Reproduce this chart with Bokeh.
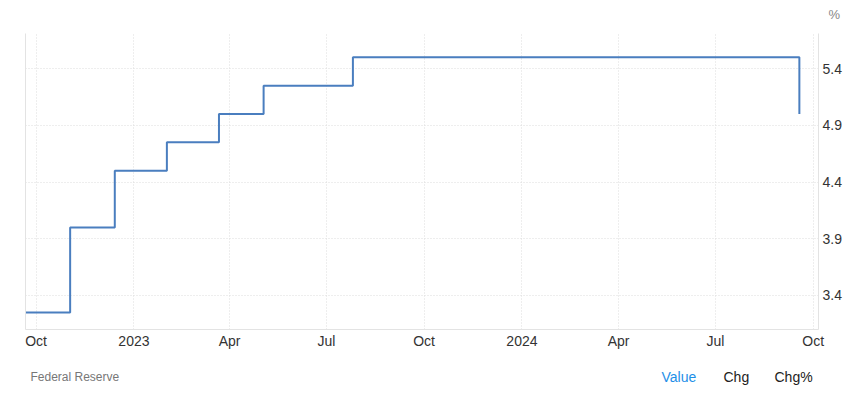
import pandas as pd
from bokeh.plotting import figure
from bokeh.layouts import column
from bokeh.models import (FixedTicker, LinearAxis, Label, Range1d)
from bokeh.embed import file_html
from bokeh.resources import INLINE

# ---- data ----
dates = ["2022-09-21", "2022-11-02", "2022-12-14", "2023-02-01", "2023-03-22",
         "2023-05-03", "2023-07-26", "2024-09-18"]
rates = [3.25, 4.00, 4.50, 4.75, 5.00, 5.25, 5.50, 5.00]

x_tick_dates = ["2022-10-01", "2023-01-01", "2023-04-01", "2023-07-01", "2023-10-01",
                "2024-01-01", "2024-04-01", "2024-07-01", "2024-10-01"]
x_tick_labels = ["Oct", "2023", "Apr", "Jul", "Oct", "2024", "Apr", "Jul", "Oct"]
y_ticks = [3.4, 3.9, 4.4, 4.9, 5.4]
x_start, x_end = "2022-09-21", "2024-10-06"
y_start, y_end = 3.10, 5.71

unit_text = "%"
source_text = "Federal Reserve"
tab_texts = ["Value", "Chg", "Chg%"]

def ms(d):
    return int(pd.Timestamp(d).value // 10**6)

xs = [ms(d) for d in dates]
tick_ms = [ms(d) for d in x_tick_dates]

FONT = "Liberation Sans"
W = 859
TOP_H, MAIN_H = 33, 336
FOOT_H = 399 - TOP_H - MAIN_H


def blank(h):
    f = figure(width=W, height=h, output_backend="svg", toolbar_location=None,
               x_range=Range1d(0, W), y_range=Range1d(0, h),
               min_border=0, min_border_left=0, min_border_right=0,
               min_border_top=0, min_border_bottom=0, frame_align=False)
    f.axis.visible = False
    f.grid.visible = False
    f.outline_line_color = None
    return f


# top strip with unit
top = blank(TOP_H)
top.add_layout(Label(x=828, y=19, text=unit_text, text_font=FONT,
                     text_font_size="13px", text_color="#888888",
                     text_baseline="middle"))

# main chart
p = figure(width=W, height=MAIN_H, output_backend="svg", toolbar_location=None,
           x_axis_type="datetime", y_axis_location="right",
           x_range=Range1d(ms(x_start), ms(x_end)), y_range=Range1d(y_start, y_end),
           min_border_left=25, min_border_right=41, min_border_top=0, min_border_bottom=40,
           frame_align=False)
p.outline_line_color = None

p.step(xs, rates, mode="after", line_color="#4a7ebf", line_width=2)

for ax in (p.xaxis[0], p.yaxis[0]):
    ax.axis_line_color = "#e3e3e3"
    ax.major_tick_line_color = None
    ax.minor_tick_line_color = None
    ax.major_tick_out = 0
    ax.major_tick_in = 0
    ax.minor_tick_out = 0
    ax.minor_tick_in = 0
    ax.major_label_text_font = FONT
    ax.major_label_text_font_size = "14px"
    ax.major_label_text_color = "#333333"

xa = p.xaxis[0]
xa.ticker = FixedTicker(ticks=tick_ms)
xa.major_label_overrides = {t: lab for t, lab in zip(tick_ms, x_tick_labels)}
xa.major_label_standoff = 3

ya = p.yaxis[0]
ya.ticker = FixedTicker(ticks=y_ticks)
ya.major_label_standoff = 4

la = LinearAxis(ticker=FixedTicker(ticks=[]), axis_line_color="#e3e3e3",
                major_tick_line_color=None, minor_tick_line_color=None,
                major_tick_out=0, minor_tick_out=0,
                major_label_text_font_size="0px", major_label_standoff=0)
p.add_layout(la, "left")

for g in (p.xgrid[0], p.ygrid[0]):
    g.grid_line_color = "#dcdcdc"
    g.grid_line_dash = "1 2"
    g.grid_line_width = 1
p.xgrid[0].ticker = FixedTicker(ticks=tick_ms)
p.ygrid[0].ticker = FixedTicker(ticks=y_ticks + [y_end])

# footer
foot = blank(FOOT_H)
fy = FOOT_H - (376 - (TOP_H + MAIN_H))
foot.add_layout(Label(x=30, y=fy, text=source_text, text_font=FONT,
                      text_font_size="12px", text_color="#777777",
                      text_baseline="middle"))
tab_x = [661, 723, 774]
tab_colors = ["#1e8fe8", "#222222", "#222222"]
for tx, tt, tc in zip(tab_x, tab_texts, tab_colors):
    foot.add_layout(Label(x=tx, y=fy, text=tt, text_font=FONT,
                          text_font_size="14px", text_color=tc,
                          text_baseline="middle"))

layout = column(top, p, foot, spacing=0)
open("out.html", "w").write(file_html(layout, INLINE))
